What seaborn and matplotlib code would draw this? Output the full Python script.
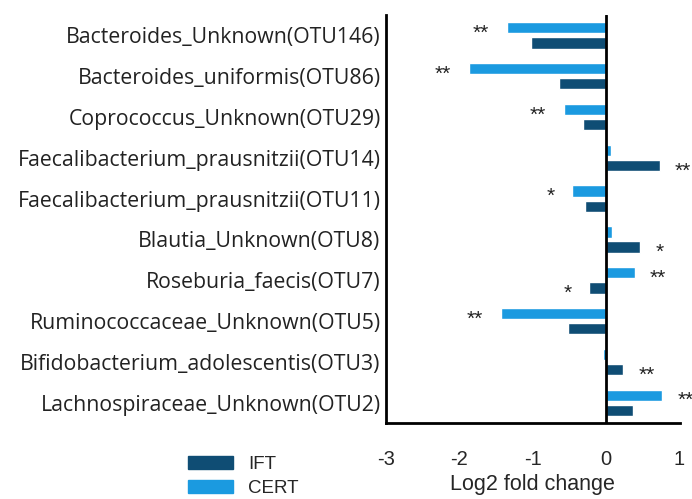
import numpy as np
import pandas as pd
import matplotlib.pyplot as plt
import seaborn as sns
from matplotlib.patches import Patch

# 数据
taxa = ['Bacteroides_Unknown(OTU146)', 'Bacteroides_uniformis(OTU86)',
        'Coprococcus_Unknown(OTU29)', 'Faecalibacterium_prausnitzii(OTU14)',
        'Faecalibacterium_prausnitzii(OTU11)', 'Blautia_Unknown(OTU8)',
        'Roseburia_faecis(OTU7)', 'Ruminococcaceae_Unknown(OTU5)',
        'Bifidobacterium_adolescentis(OTU3)', 'Lachnospiraceae_Unknown(OTU2)']
cert = [-1.35, -1.87, -0.57, 0.07, -0.46, 0.08, 0.39, -1.44, -0.05, 0.76]
ift = [-1.03, -0.64, -0.31, 0.73, -0.29, 0.46, -0.23, -0.52, 0.23, 0.37]
cert_sig = ['**', '**', '**', '', '*', '', '**', '**', '', '**']
ift_sig = ['', '', '', '**', '', '*', '*', '', '**', '']

groups = ['CERT', 'IFT']
colors = {'CERT': '#1b9ae0', 'IFT': '#0f4d74'}

df = pd.DataFrame({
    'taxon': taxa * 2,
    'group': ['CERT'] * len(taxa) + ['IFT'] * len(taxa),
    'lfc': cert + ift,
})

sns.set_style('white')
plt.rcParams['font.family'] = ['Liberation Sans', 'DejaVu Sans']

fig = plt.figure(figsize=(6.92, 4.99), dpi=100)
ax = fig.add_axes([0.558, 0.152, 0.424, 0.818])

sns.barplot(data=df, y='taxon', x='lfc', hue='group', order=taxa,
            hue_order=groups, palette=colors, orient='h', width=0.74,
            gap=0.25, saturation=1, ax=ax, legend=False)

# 显著性星号
for grp, sig in [('CERT', cert_sig), ('IFT', ift_sig)]:
    vals = df[df['group'] == grp]['lfc'].values
    for i, (v, s) in enumerate(zip(vals, sig)):
        if not s:
            continue
        ypos = i - 0.185 if grp == 'CERT' else i + 0.185
        off = 11 if v > 0 else -13
        ax.annotate(s, (v, ypos), xytext=(off, -4), textcoords='offset points',
                    ha='left' if v > 0 else 'right', va='center',
                    fontsize=15, color='#222222', annotation_clip=False)

ax.axvline(0, color='black', lw=2)
ax.set_xlim(-2.95, 1.0)
ax.set_ylim(9.5, -0.5)
ax.set_xticks([-3, -2, -1, 0, 1])
ax.set_xticklabels(['-3', '-2', '-1', '0', '1'])
ax.tick_params(axis='x', length=0, labelsize=14.5, pad=19)
ax.tick_params(axis='y', length=0, labelsize=15.3, pad=4)
for lab in ax.get_yticklabels():
    lab.set_family(['Open Sans', 'DejaVu Sans'])
    lab.set_color('#222222')
ax.set_ylabel('')
ax.set_xlabel('Log2 fold change', fontsize=15.5, labelpad=4)

sns.despine(ax=ax, top=True, right=True)
for side in ['left', 'bottom']:
    ax.spines[side].set_color('black')
    ax.spines[side].set_linewidth(2)

# 图例
handles = [Patch(color=colors['IFT'], label='IFT'),
           Patch(color=colors['CERT'], label='CERT')]
fig.legend(handles=handles, loc='lower left', bbox_to_anchor=(0.248, -0.03),
           frameon=False, fontsize=13.5, handlelength=2.4, handleheight=0.75,
           labelspacing=0.35, handletextpad=0.8)

fig.savefig('out.png', dpi=100)
